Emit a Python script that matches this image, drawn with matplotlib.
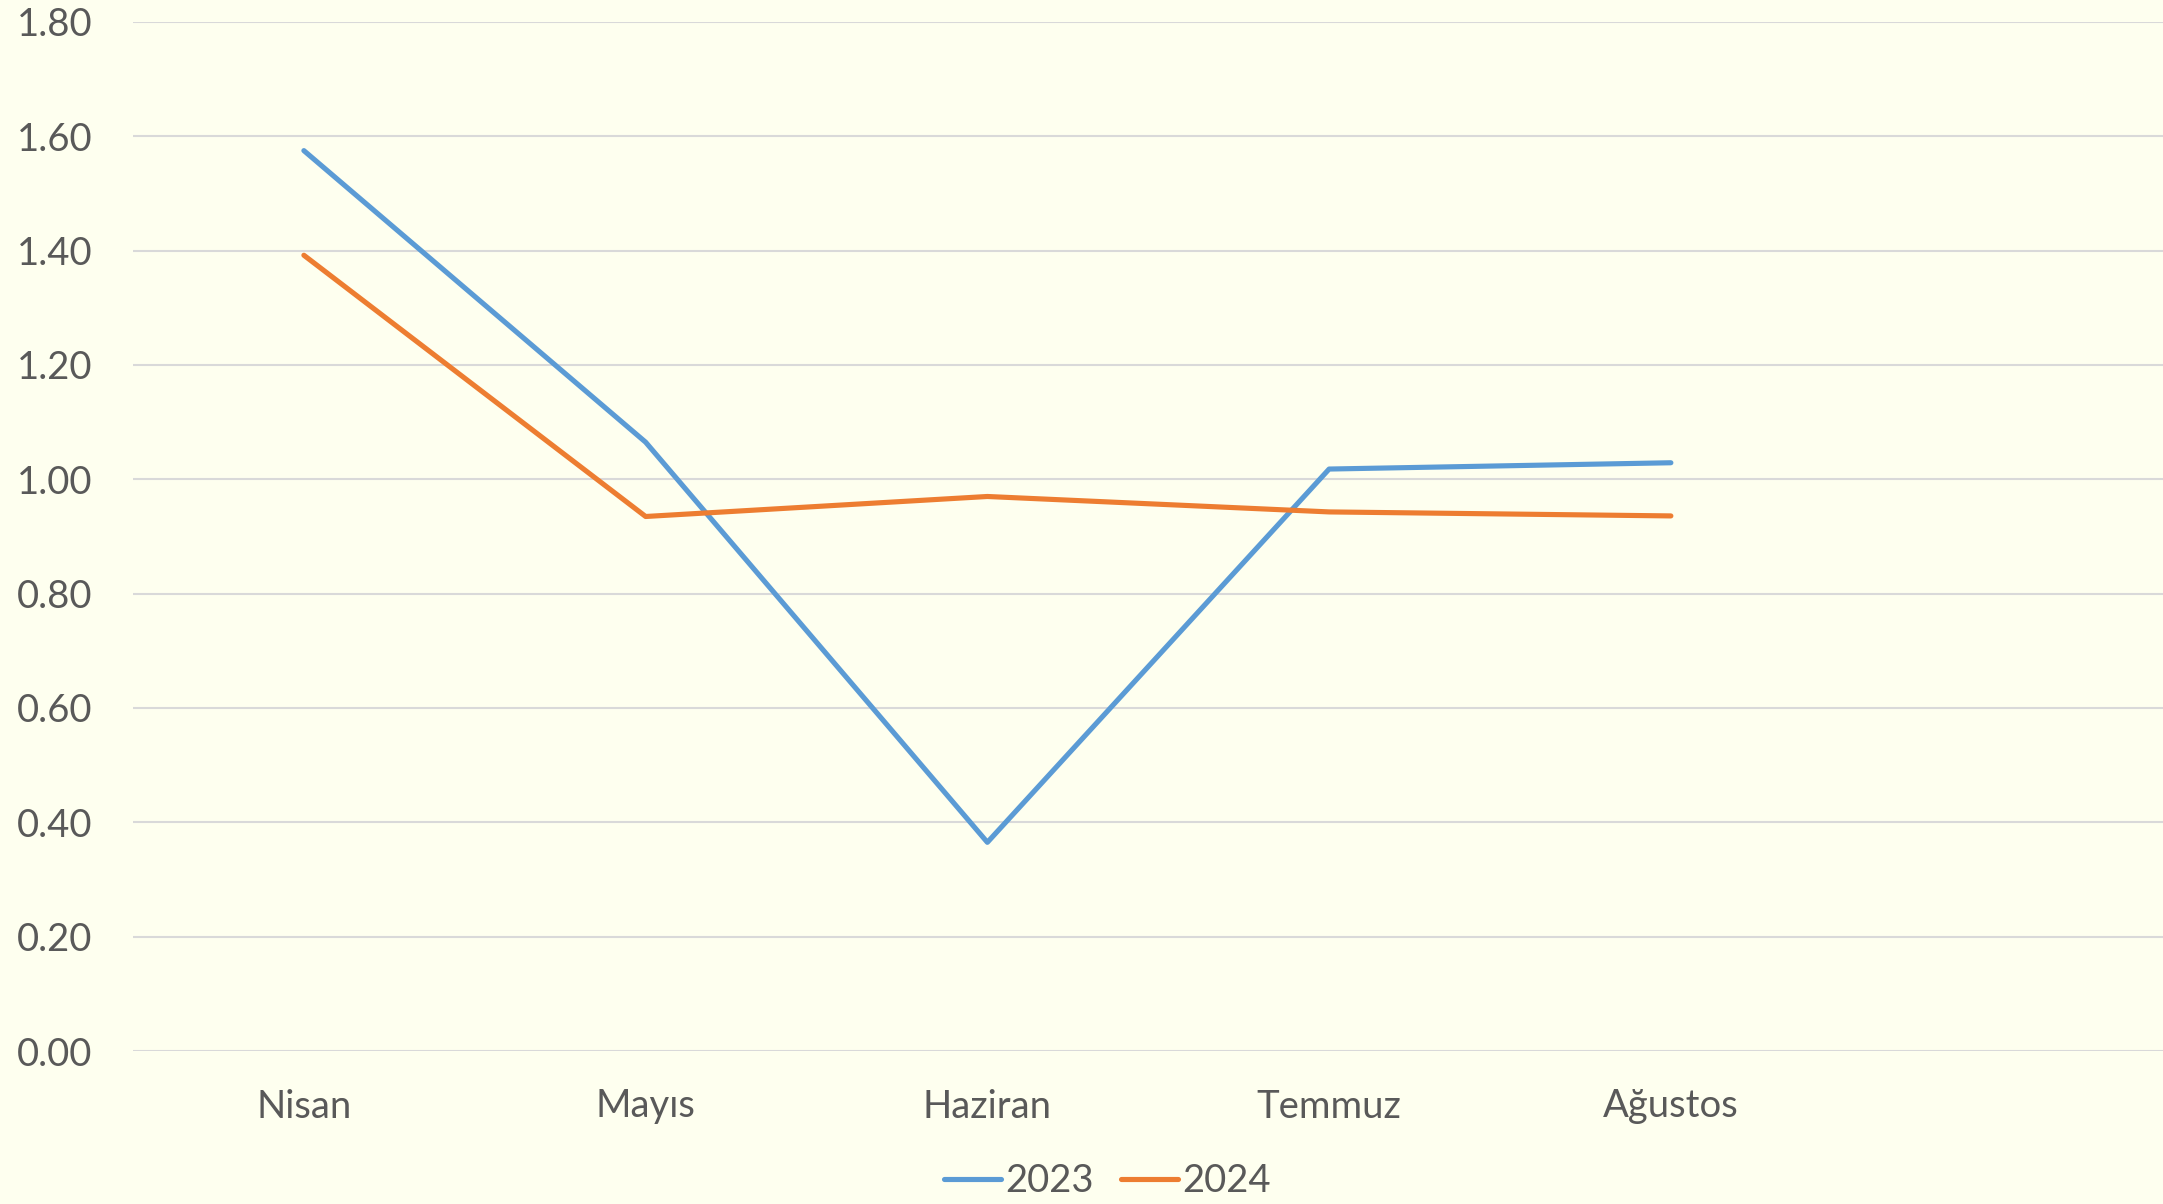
import numpy as np
import matplotlib.pyplot as plt

# aylar ve seriler
aylar = ["Nisan", "Mayıs", "Haziran", "Temmuz", "Ağustos"]
seri_2023 = [1.575, 1.065, 0.365, 1.018, 1.029]
seri_2024 = [1.392, 0.935, 0.970, 0.943, 0.936]
yil_etiketleri = ["2023", "2024"]

plt.rcParams['font.family'] = ['Lato', 'DejaVu Sans']
arka_plan = '#FEFFEF'
yazi_rengi = '#595959'

fig = plt.figure(figsize=(21.63, 12.04), dpi=100, facecolor=arka_plan)
ax = fig.add_axes([133 / 2163, 1 - 1051 / 1204, 1 - 133 / 2163, (1051 - 22) / 1204])
ax.set_facecolor(arka_plan)

x = np.arange(len(aylar))
ax.plot(x, seri_2023, color='#5B9BD5', lw=3.7, solid_capstyle='round', label=yil_etiketleri[0])
ax.plot(x, seri_2024, color='#ED7D31', lw=3.7, solid_capstyle='round', label=yil_etiketleri[1])

ax.set_ylim(0, 1.8)
ax.set_yticks(np.arange(0, 1.81, 0.2))
ax.set_yticklabels([f"{v:.2f}" for v in np.arange(0, 1.81, 0.2)])
ax.set_xlim(-0.5, 5.44)
ax.set_xticks(x)
ax.set_xticklabels(aylar)

ax.grid(axis='y', color='#D9D9D9', lw=1.5)
ax.set_axisbelow(True)
for s in ax.spines.values():
    s.set_visible(False)
ax.tick_params(axis='both', length=0, labelsize=27.5, labelcolor=yazi_rengi)
ax.tick_params(axis='y', pad=29)
ax.tick_params(axis='x', pad=27)

fig.legend(loc='center', bbox_to_anchor=(0.512, 0.019), ncol=2, frameon=False,
           fontsize=27.5, labelcolor=yazi_rengi, handlelength=1.5, handletextpad=0.12,
           columnspacing=0.7)

fig.savefig('out.png', dpi=100, facecolor=arka_plan)
